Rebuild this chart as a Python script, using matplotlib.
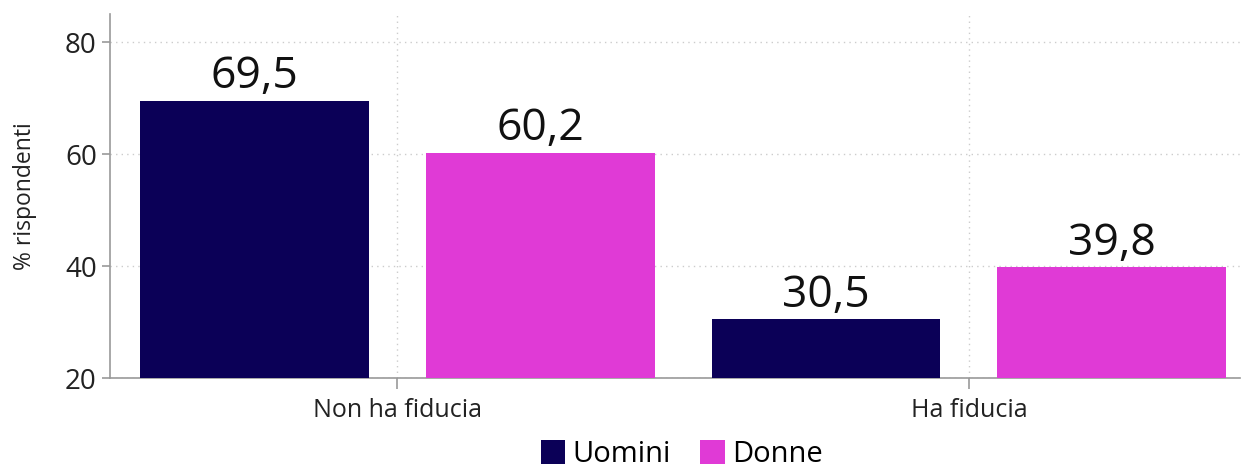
import matplotlib.pyplot as plt
import numpy as np

categories = ["Non ha fiducia", "Ha fiducia"]
uomini = [69.5, 30.5]
donne = [60.2, 39.8]
series_names = ["Uomini", "Donne"]
colors = ["#0B0057", "#E03AD6"]

plt.rcParams['font.family'] = ['Open Sans', 'DejaVu Sans']

fig = plt.figure(figsize=(12.42, 4.72), dpi=100, facecolor='w')
ax = fig.add_axes([0.0886, 0.199, 0.91, 0.771])

x = np.arange(len(categories))
w = 0.4
b1 = ax.bar(x - 0.25, np.array(uomini) - 20, w, bottom=20, color=colors[0], label=series_names[0], zorder=3)
b2 = ax.bar(x + 0.25, np.array(donne) - 20, w, bottom=20, color=colors[1], label=series_names[1], zorder=3)

for bars, vals in [(b1, uomini), (b2, donne)]:
    for r, v in zip(bars, vals):
        ax.text(r.get_x() + r.get_width() / 2, v + 0.3, f"{v:.1f}".replace(".", ","),
                ha='center', va='bottom', fontsize=32, color='#111111', zorder=4)

ax.set_ylim(20, 85)
ax.set_xlim(-0.503, 1.475)
ax.set_yticks([20, 40, 60, 80])
ax.set_xticks(x)
ax.set_xticklabels(categories)
ax.set_ylabel("% rispondenti", fontsize=16.5, color='#222222', labelpad=20)

ax.grid(True, linestyle=(0, (1, 3)), color='#cccccc', linewidth=1, zorder=0)
for s in ['top', 'right']:
    ax.spines[s].set_visible(False)
for s in ['left', 'bottom']:
    ax.spines[s].set_color('#999999')
    ax.spines[s].set_linewidth(1.2)
ax.tick_params(axis='y', colors='#999999', labelcolor='#222222', labelsize=20, length=6, width=1.2)
ax.tick_params(axis='x', colors='#999999', labelcolor='#222222', labelsize=18, length=8, width=1.2, pad=6)

fig.legend(loc='lower center', bbox_to_anchor=(0.549, -0.025), ncol=2, frameon=False, borderaxespad=0.1,
           fontsize=21, handlelength=0.85, handleheight=0.85, handletextpad=0.25, columnspacing=1.0)

plt.savefig("out.png", dpi=100)
